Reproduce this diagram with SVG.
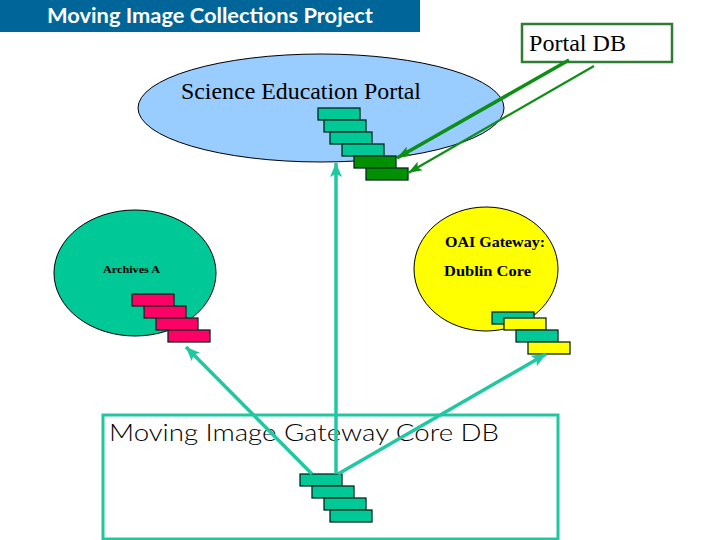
<svg xmlns="http://www.w3.org/2000/svg" width="720" height="540" viewBox="0 0 720 540">
<style>
.s{stroke:#06281e;stroke-width:1.3}
.t{fill:#00c896}.p{fill:#ff0066}.y{fill:#ffff00}.g{fill:#009000}
.e{stroke:#000;stroke-width:1}
.serif{font-family:"Liberation Serif",serif;fill:#000}
.sans{font-family:"Lato","Liberation Sans",sans-serif}
.c{fill:none;stroke:#1fc8a0;stroke-width:3.5}
.d{fill:none;stroke:#0c8f14}
</style>
<defs>
<marker id="at" markerUnits="userSpaceOnUse" markerWidth="16" markerHeight="14" refX="14" refY="7" orient="auto"><path d="M0 1L14 7L0 13L3 7Z" fill="#1fc8a0"/></marker>
<marker id="ag" markerUnits="userSpaceOnUse" markerWidth="16" markerHeight="12" refX="14" refY="6" orient="auto"><path d="M0 1L14 6L0 11L3 6Z" fill="#0c8f14"/></marker>
</defs>
<rect width="720" height="540" fill="#fff"/>
<g id="title"><rect x="0" y="0" width="420" height="32" fill="#006699"/><text x="47" y="23" class="sans" font-size="20" font-weight="700" fill="#fff" textLength="326" lengthAdjust="spacingAndGlyphs">Moving Image Collections Project</text></g>
<g id="portal-db"><rect x="522" y="24" width="150" height="38" fill="#fff" stroke="#2f7d32" stroke-width="2.5"/><text x="529" y="51" class="serif" font-size="24" textLength="97" lengthAdjust="spacingAndGlyphs">Portal DB</text></g>
<g id="science-education-portal"><ellipse cx="321" cy="108" rx="183" ry="54" fill="#99ccff" class="e"/><text x="181" y="99" class="serif" font-size="24" textLength="240" lengthAdjust="spacingAndGlyphs">Science Education Portal</text>
<rect x="318" y="108" width="42" height="12" class="s t"/><rect x="324" y="120" width="42" height="12" class="s t"/><rect x="330" y="132" width="42" height="12" class="s t"/><rect x="342" y="144" width="42" height="12" class="s t"/><rect x="354" y="156" width="42" height="12" class="s g"/><rect x="366" y="168" width="42" height="12" class="s g"/></g>
<g id="archives-a"><ellipse cx="135" cy="273" rx="81" ry="63" class="t e"/><text x="103" y="273" class="serif" font-size="11" font-weight="700" fill="#000" textLength="57" lengthAdjust="spacingAndGlyphs">Archives A</text>
<rect x="132" y="294" width="42" height="12" class="s p"/><rect x="144" y="306" width="42" height="12" class="s p"/><rect x="156" y="318" width="42" height="12" class="s p"/><rect x="168" y="330" width="42" height="12" class="s p"/></g>
<g id="oai-gateway"><ellipse cx="486" cy="269" rx="72" ry="62" class="y e"/><text x="445" y="247" class="serif" font-size="14" font-weight="700" textLength="100" lengthAdjust="spacingAndGlyphs">OAI Gateway:</text><text x="444" y="276" class="serif" font-size="14" font-weight="700" textLength="87" lengthAdjust="spacingAndGlyphs">Dublin Core</text>
<rect x="492" y="312" width="42" height="12" class="s t"/><rect x="504" y="318" width="42" height="12" class="s y"/><rect x="516" y="330" width="42" height="12" class="s t"/><rect x="528" y="342" width="42" height="12" class="s y"/></g>
<g id="core-db"><rect x="103" y="415" width="455" height="124" fill="none" stroke="#1fc8a0" stroke-width="3"/><text x="109" y="441" class="sans" font-size="24" font-weight="300" fill="#000" textLength="390" lengthAdjust="spacingAndGlyphs">Moving Image Gateway Core DB</text>
<rect x="300" y="474" width="42" height="12" class="s t"/><rect x="312" y="486" width="42" height="12" class="s t"/><rect x="324" y="498" width="42" height="12" class="s t"/><rect x="330" y="510" width="42" height="12" class="s t"/></g>
<g id="connectors">
<line x1="336" y1="474" x2="336" y2="163" class="c" marker-end="url(#at)"/>
<line x1="312" y1="474" x2="186" y2="347" class="c" marker-end="url(#at)"/>
<line x1="338" y1="474" x2="546" y2="354" class="c" marker-end="url(#at)"/>
<line x1="569" y1="60" x2="397" y2="158" class="d" stroke-width="3.5" marker-end="url(#ag)"/>
<line x1="594" y1="66" x2="408" y2="173" class="d" stroke-width="2.2" marker-end="url(#ag)"/>
</g>
</svg>
